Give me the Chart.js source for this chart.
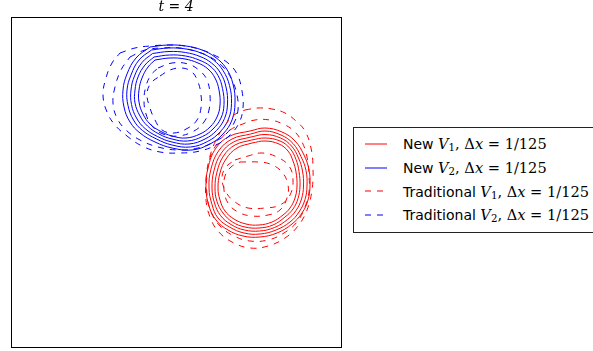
<!DOCTYPE html>
<html>
<head>
<meta charset="utf-8">
<script src="https://cdn.jsdelivr.net/npm/chart.js@4.4.1/dist/chart.umd.min.js"></script>
<style>
  html, body { margin: 0; padding: 0; background: #fff; }
  #wrap { position: relative; width: 593px; height: 351px; overflow: hidden; }
  #legend {
    position: absolute; left: 353px; top: 127px; width: 270px; height: 106px;
    box-sizing: border-box; border: 1px solid #222; background: #fff; padding-top: 4px;
    font-family: 'DejaVu Sans', sans-serif; font-size: 14px; color: #000;
  }
  .row { height: 23.7px; display: flex; align-items: center; white-space: nowrap; }
  .row svg { margin-left: 11px; margin-right: 16px; flex: none; }
  .m { font-family: 'DejaVu Serif', serif; font-size: 14.6px; }
  .m i { font-style: italic; }
  .m sub { font-size: 70%; vertical-align: -0.2em; line-height: 0; }
</style>
</head>
<body>
<div id="wrap">
  <canvas id="c" width="593" height="351"></canvas>
  <div id="legend"></div>
</div>
<script>
// labels
const titleText = 't = 4';
const seriesNames = ['New', 'New', 'Traditional', 'Traditional'];
const seriesVars = ['1', '2', '1', '2'];
const dxLabel = '1/125';

// contour rings, domain units (0..330 both ways), one array per level
const newV1 = [
  [[239,216],[254,219],[271,215],[284,206],[293,192],[298,177],[299,161],[297,147],[291,134],[281,123],[266,114],[249,110],[232,111],[217,117],[205,127],[198,141],[195,159],[197,179],[205,199],[219,211]],
  [[239.5,213],[254,216],[270,212],[282,203.5],[290,190.5],[295,176.5],[296,161],[294,147.5],[288,135],[279,125],[265,117],[249,113],[233,114],[218.5,120],[207,129],[201,142.5],[198,159],[200,178],[207.5,196],[221,208]],
  [[240,210],[254,212.5],[269.5,209],[280.5,201],[287.5,189],[291.5,176],[292.5,161],[290.5,148],[285,136.5],[276.5,127.5],[263.5,119.5],[248.5,116],[233.5,117],[220,122.5],[209.5,131.5],[203.5,144],[201,159],[203,176.5],[210,193.5],[222.5,205]],
  [[240.5,207],[254,209],[269,206],[279,198.5],[285,187.5],[288,175.5],[289,161],[287,148.5],[282,138],[274,130],[262,122],[248,119],[234,120],[221.5,125],[212,134],[206,145.5],[204,159],[206,175],[212.5,191],[224,202]],
  [[241,204],[254,206],[268,203],[277,196],[282,186],[285,175],[286,161],[284,149],[279,139],[272,132],[261,125],[248,122],[235,123],[223,128],[214,136],[209,147],[207,159],[209,174],[215,188],[226,199]]
];

const newV2 = [
  [[139,300],[157,302],[175,301],[191,297],[204,290],[215,279],[222,263],[224,244],[221,227],[212,213],[199,203],[181,197],[161,199],[144,205],[129,214],[119,225],[113,240],[112,257],[116,273],[125,289]],
  [[140.5,297],[157.5,299],[175,298],[190,294],[202.5,287],[212,276.5],[218.5,261.5],[220.5,243.5],[217.5,228],[209,215],[196.5,205.5],[179.5,200],[161,202],[145.5,208],[131.5,216.5],[122.5,227],[117,241.5],[116,257],[120,272],[128,287]],
  [[141.5,293.5],[158,295.5],[174.5,294.5],[189,290.5],[200.5,284],[209.5,274],[215,260],[216.5,243],[213.5,228.5],[205.5,216.5],[194,208],[178,203],[161,205],[146.5,210.5],[134,218.5],[125.5,229],[120.5,242.5],[120,257],[123.5,271],[131,284.5]],
  [[143,290],[158.5,292],[174.5,291],[188,287],[199,281],[207,271.5],[211.5,258.5],[213,242.5],[210,229],[202,218],[191.5,210.5],[176.5,206],[161,208],[148,213],[136.5,221],[129,231],[124,244],[124,257],[127,270],[134,282]],
  [[144,287],[159,289],[174,288],[187,284],[197,278],[204,269],[208,257],[209,242],[206,230],[199,220],[189,213],[175,209],[161,211],[149,216],[139,223],[132,233],[128,245],[128,257],[131,269],[137,280]]
];

const tradV1 = [
  [[234,237],[247,239],[261,238],[274,234],[285,226],[294,216],[300,199],[302,179],[301,157],[296,137],[287,121],[274,109],[257,101],[239,99],[221,105],[207,116],[199,130],[195,147],[195,167],[198,187],[205,207],[215,223],[223,232]],
  [[229,222],[244,227],[259,227],[272,223],[283,216],[291,205],[296,190],[298,172],[298,155],[294,140],[286,125],[273,114],[257,107],[239,106],[223,111],[209,121],[200,135],[196,152],[196,172],[200,192],[209,207],[219,217]],
  [[224,187],[237,191],[251,194],[266,190],[278,181],[282,167],[279,152],[269,142],[254,139],[237,139],[224,145],[215,155],[211,169],[215,180]],
  [[229,185],[247,185],[259,183],[271,175],[277,162],[276,149],[269,137],[257,132],[241,131],[227,135],[217,144],[213,157],[214,171],[220,180]]
];

const tradV2 = [
  [[109,294],[124,299],[139,301],[157,302],[174,301],[191,297],[205,291],[217,284],[226,273],[231,256],[232,239],[228,224],[219,212],[207,203],[189,196],[169,194],[149,195],[131,201],[116,211],[104,222],[96,235],[92,252],[95,269],[101,284]],
  [[119,290],[134,297],[151,299],[169,299],[187,295],[201,289],[213,279],[221,267],[226,252],[227,237],[223,224],[215,213],[203,205],[187,199],[167,197],[147,200],[129,207],[115,217],[106,229],[102,244],[104,260],[110,277]],
  [[147,279],[161,284],[177,283],[189,276],[196,267],[199,252],[198,237],[193,225],[183,216],[167,211],[152,213],[141,221],[135,233],[133,247],[135,261],[140,272]],
  [[149,271],[159,277],[171,279],[181,275],[187,265],[190,252],[190,239],[186,227],[177,219],[163,214],[151,217],[144,227],[139,239],[136,253],[140,264]]
];

const seriesRings = [newV1, newV2, tradV1, tradV2];
const colors = ['#ff0000', '#0000ff', '#ff0000', '#0000ff'];
const dashes = [[], [], [6, 6], [6, 6]];

// close each ring by repeating its first point
const toPoints = ring => ring.concat([ring[0]]).map(([x, y]) => ({ x, y }));

const datasets = [];
seriesRings.forEach((rings, s) => {
  rings.forEach(ring => {
    datasets.push({
      label: `${seriesNames[s]} V${seriesVars[s]}, Δx = ${dxLabel}`,
      series: s,
      data: toPoints(ring),
      showLine: true,
      borderColor: colors[s],
      borderWidth: 1,
      borderDash: dashes[s],
      pointRadius: 0,
      tension: 0.4,
      order: -s, // later series on top, like matplotlib
    });
  });
});

// axes frame round the plot area
const frame = {
  id: 'frame',
  afterDraw(chart) {
    const { ctx, chartArea: a } = chart;
    ctx.save();
    ctx.strokeStyle = '#000';
    ctx.lineWidth = 1;
    ctx.strokeRect(Math.round(a.left) + 0.5, Math.round(a.top) + 0.5,
      Math.round(a.width), Math.round(a.height));
    ctx.restore();
  },
};

// legend with math text, one entry per series
const htmlLegend = {
  id: 'htmlLegend',
  afterUpdate(chart) {
    const box = document.getElementById('legend');
    box.innerHTML = '';
    seriesNames.forEach((name, s) => {
      const ds = chart.data.datasets.find(d => d.series === s);
      const row = document.createElement('div');
      row.className = 'row';
      const dash = (ds.borderDash || []).join(',');
      row.innerHTML =
        `<svg width="22" height="6"><line x1="0" y1="3" x2="22" y2="3" stroke="${ds.borderColor}" stroke-width="1"` +
        (dash ? ` stroke-dasharray="${dash}"` : '') + `/></svg>` +
        `<span>${name} <span class="m"><i>V</i><sub>${seriesVars[s]}</sub>, Δ<i>x</i> = ${dxLabel}</span></span>`;
      box.appendChild(row);
    });
  },
};

new Chart(document.getElementById('c'), {
  type: 'scatter',
  data: { datasets },
  options: {
    responsive: false,
    animation: false,
    events: [],
    layout: { padding: { left: 11, right: 252, top: 0, bottom: 4 } },
    scales: {
      x: { type: 'linear', min: 0, max: 330, display: false },
      y: { type: 'linear', min: 0, max: 330, display: false },
    },
    plugins: {
      legend: { display: false },
      tooltip: { enabled: false },
      title: {
        display: true,
        text: titleText,
        color: '#000',
        font: { family: 'DejaVu Serif', size: 14, style: 'italic', weight: 'normal', lineHeight: 1.1 },
        padding: { top: 0, bottom: 1.6 },
      },
    },
  },
  plugins: [frame, htmlLegend],
});
</script>
</body>
</html>
